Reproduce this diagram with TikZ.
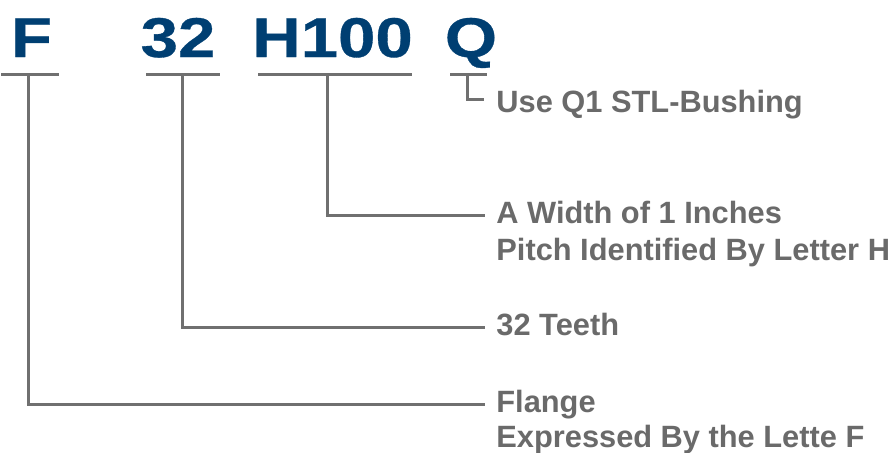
\documentclass[tikz,border=0pt]{standalone}
\usepackage{fontspec}
\setmainfont{Liberation Sans}
\newfontfamily\codefont[FakeStretch=1.2,FakeBold=0.6]{Liberation Sans}
\usetikzlibrary{calc}

\begin{document}
\begin{tikzpicture}[x=0.5pt, y=-0.5pt]
    % Define colours
    \definecolor{codeColour}{HTML}{003F72}
    \definecolor{textColour}{HTML}{6A6A6A}
    \definecolor{lineColour}{HTML}{707070}

    % Define styles
    \tikzset{
        code/.style={inner sep=0pt, anchor=base, text=codeColour, font=\codefont\bfseries\fontsize{28}{30}\selectfont},
        desc/.style={inner xsep=5.5pt, inner ysep=0pt, anchor=base west, text=textColour, text height=0.72em, text depth=0pt, font=\bfseries\fontsize{15.4}{18}\selectfont},
        leader/.style={draw=lineColour, line width=1.5pt}
    }

    % Fix picture size
    \useasboundingbox (0,0) rectangle (893,452);

    % Define height of underlines
    \def\lineLevel{74}

    % Draw code letters
    \node[code] (codeF) at (31.5,57) {F};
    \node[code] (code32) at (178,57) {32};
    \node[code] (codeH) at (332.5,57) {H100};
    \node[code] (codeQ) at (471,57) {Q};

    % Draw underlines and mark ticks
    \foreach \name/\left/\right/\tick in {F/1/59/28, 32/146/220/182, H/258/412/327, Q/450/487/467} {
        \draw[leader] (\left,\lineLevel) -- (\right,\lineLevel);
        \coordinate (tick\name) at (\tick,\lineLevel);
    }

    % Draw descriptions
    \node[desc] (descQ) at (485,112) {Use Q1 STL-Bushing};
    \node[desc] (descH) at (485,223) {A Width of 1 Inches};
    \node[desc] (descHb) at (485,260) {Pitch Identified By Letter H};
    \node[desc] (desc32) at (485,335) {32 Teeth};
    \node[desc] (descF) at (485,412) {Flange};
    \node[desc] (descFb) at (485,447) {Expressed By the Lette F};

    % Draw leaders
    \coordinate (endQ) at (484,99);
    \draw[leader] (tickQ) |- (endQ);
    \draw[leader] (tickH) |- (descH.west);
    \draw[leader] (tick32) |- (desc32.west);
    \draw[leader] (tickF) |- (descF.west);
\end{tikzpicture}
\end{document}
